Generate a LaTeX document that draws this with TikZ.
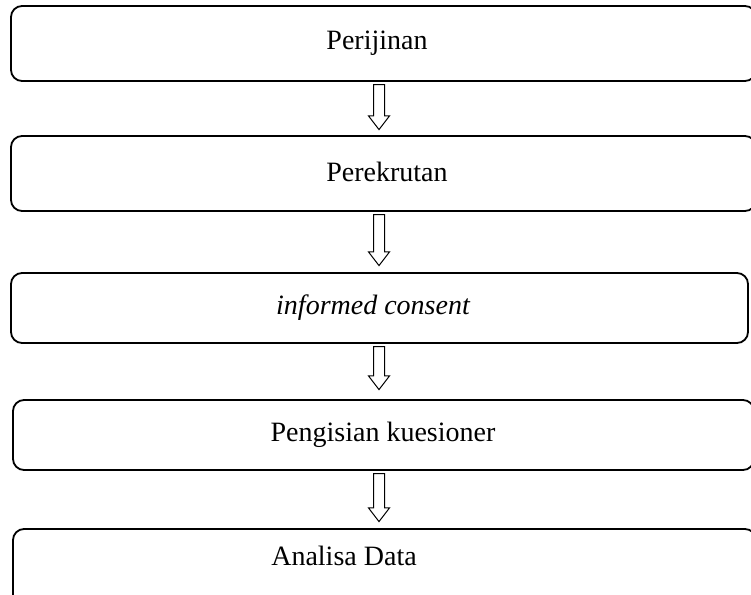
\documentclass[tikz,border=0pt]{standalone}
\usepackage{fontspec}
\setmainfont{Liberation Serif}
\usetikzlibrary{shapes.arrows}

\begin{document}
\begin{tikzpicture}[x=1pt,y=-1pt,
    stage/.style={draw, line width=1.8pt, rounded corners=11pt},
    label/.style={font=\fontsize{28}{33}\selectfont, inner sep=0pt},
    downarrow/.style={draw, line width=1pt, shape=single arrow, rotate=-90,
      inner sep=0pt, minimum width=20pt, single arrow head extend=5pt,
      single arrow tip angle=75, text height=10pt}]
    \useasboundingbox (0,0) rectangle (751,594);
    % stages
    \node[stage, minimum width=745pt, minimum height=75pt] (B1) at (383.5,43.5) {};
    \node[stage, minimum width=745pt, minimum height=75pt] (B2) at (383.5,173.5) {};
    \node[stage, minimum width=737pt, minimum height=70pt] (B3) at (379.5,308) {};
    \node[stage, minimum width=741pt, minimum height=70pt] (B4) at (383.5,435) {};
    \node[stage, minimum width=743pt, minimum height=85pt] (B5) at (384.5,571.5) {};
    % texts
    \node[label] (T1) at (377,43) {Perijinan};
    \node[label] (T2) at (387,172) {Perekrutan};
    \node[label] (T3) at (373,308) {\itshape informed consent};
    \node[label] (T4) at (383,435) {Pengisian kuesioner};
    \node[label] (T5) at (344,556) {Analisa Data};
    % arrows
    \node[downarrow, minimum height=45pt] (A1) at (379,103.5) {};
    \node[downarrow, minimum height=51pt] (A2) at (379,236.5) {};
    \node[downarrow, minimum height=43pt] (A3) at (379,364.5) {};
    \node[downarrow, minimum height=48pt] (A4) at (379,494) {};
\end{tikzpicture}
\end{document}
